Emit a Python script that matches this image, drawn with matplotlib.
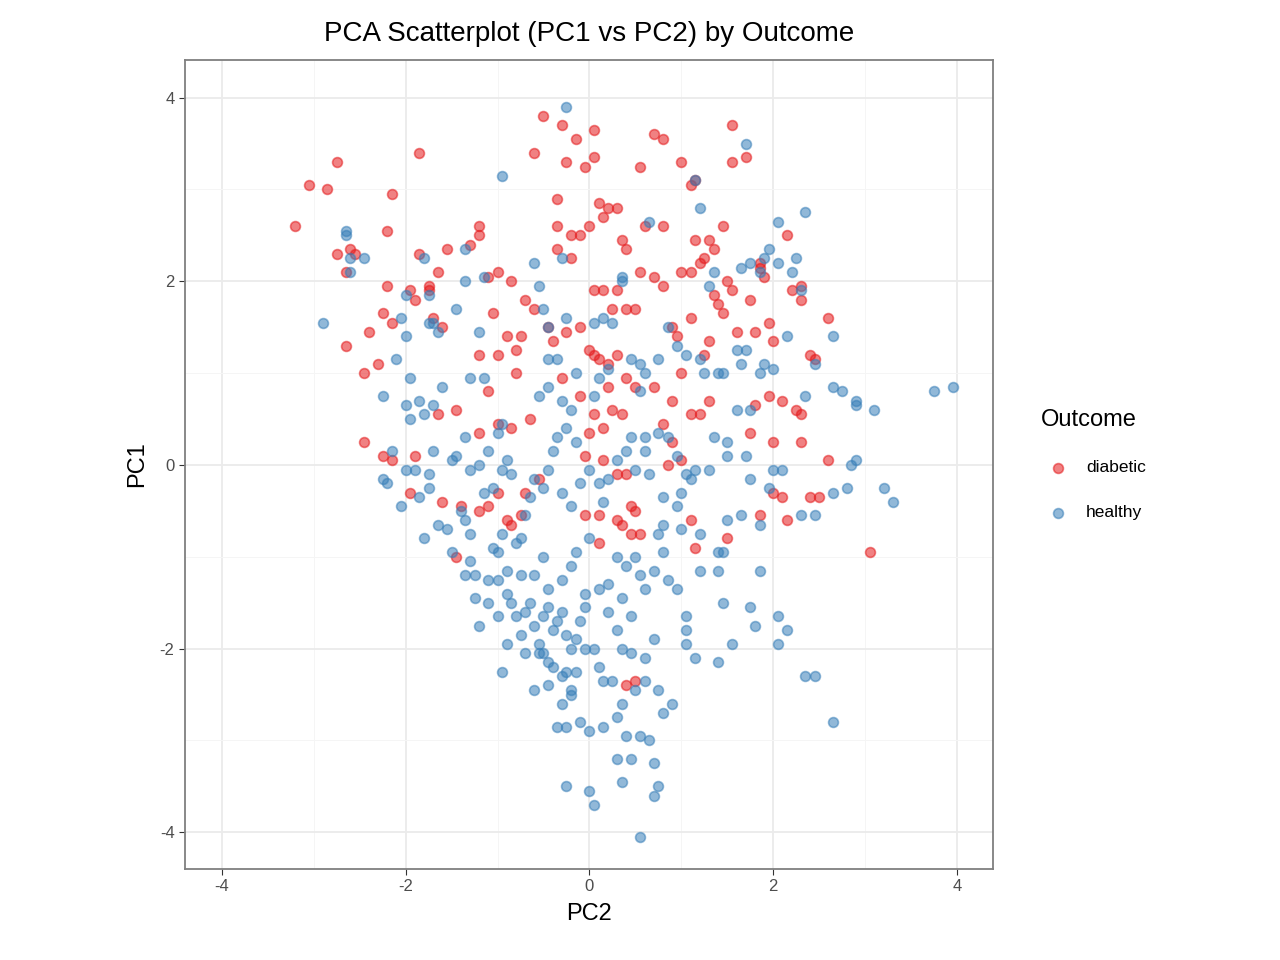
import numpy as np
import matplotlib.pyplot as plt

plt.rcParams['font.family'] = ['Liberation Sans', 'DejaVu Sans']
plt.rcParams['axes.unicode_minus'] = False

# diabetic points (PC2, PC1)
diabetic = [(-3.2,2.6),(-3.05,3.05),(-2.85,3.0),(-2.75,3.3),(-2.75,2.3),(-2.65,2.1),(-2.6,2.35),(-2.55,2.3),(-2.65,1.3),(-2.4,1.45),(-2.45,1.0),(-2.2,1.95),(-2.2,2.55),(-2.15,2.95),(-2.25,1.65),(-2.15,1.55),(-2.3,1.1),(-2.45,0.25),(-2.25,0.1),(-2.15,0.05),(-1.85,3.4),(-1.85,2.3),(-1.9,1.8),(-1.95,1.9),(-1.9,0.1),(-1.95,-0.3),(-1.75,1.9),(-1.75,1.95),(-1.7,1.6),(-1.65,2.1),(-1.6,1.5),(-1.65,0.55),(-1.55,2.35),(-1.6,-0.4),(-1.45,0.6),(-1.4,-0.45),(-1.45,-1.0),(-1.3,2.4),(-1.2,2.6),(-1.2,2.5),(-1.1,2.05),(-1.0,2.1),(-0.85,2.0),(-1.05,1.65),(-1.2,1.2),(-1.1,0.8),(-1.0,1.2),(-0.9,1.4),(-0.8,1.25),(-0.75,1.4),(-0.8,1.0),(-0.7,1.8),(-0.6,1.7),(-1.2,0.35),(-1.0,0.45),(-0.85,0.4),(-0.65,0.5),(-1.2,-0.5),(-1.1,-0.45),(-1.0,-0.3),(-0.9,-0.6),(-0.85,-0.65),(-0.75,-0.55),(-0.7,-0.3),(-0.55,-0.15),(-0.5,3.8),(-0.3,3.7),(-0.6,3.4),(-0.25,3.3),(-0.15,3.55),(0.05,3.65),(-0.05,3.25),(0.05,3.35),(-0.35,2.9),(-0.35,2.6),(-0.2,2.5),(-0.1,2.5),(-0.35,2.35),(-0.2,2.25),(0.1,2.85),(0.2,2.8),(0.3,2.8),(0.15,2.7),(0.0,2.6),(0.35,2.45),(0.4,2.35),(0.05,1.9),(0.15,1.9),(0.3,1.9),(0.4,1.7),(0.5,1.7),(0.25,1.7),(-0.45,1.5),(-0.25,1.45),(-0.1,1.5),(0.0,1.25),(0.05,1.2),(0.1,1.15),(0.2,1.1),(0.3,1.2),(0.4,0.95),(0.5,0.85),(0.7,0.85),(-0.4,1.35),(-0.3,0.95),(-0.1,0.75),(0.2,0.85),(0.05,0.55),(0.25,0.6),(0.35,0.55),(0.0,0.35),(0.15,0.4),(-0.05,0.1),(0.15,0.05),(0.3,-0.1),(0.4,-0.1),(-0.05,-0.55),(0.1,-0.55),(0.3,-0.6),(0.45,-0.45),(0.5,-0.5),(0.1,-0.85),(0.35,-0.65),(0.45,-0.75),(0.55,-0.75),(0.5,-2.35),(0.4,-2.4),(0.55,2.1),(0.7,2.05),(0.8,1.95),(0.6,2.6),(0.8,2.6),(0.7,3.6),(0.8,3.55),(0.55,3.25),(1.0,3.3),(1.1,3.05),(1.15,3.1),(1.0,2.1),(1.1,2.1),(1.15,2.45),(1.3,2.45),(1.25,2.25),(1.2,2.2),(1.35,2.35),(1.45,2.6),(1.5,2.0),(1.35,1.85),(1.4,1.75),(1.55,1.9),(1.55,3.3),(1.55,3.7),(1.7,3.35),(1.75,1.8),(1.6,1.45),(1.45,1.65),(1.85,2.2),(1.9,2.05),(1.85,2.15),(1.8,1.45),(1.95,1.55),(2.0,1.35),(2.15,2.5),(2.2,1.9),(2.3,1.8),(2.3,1.95),(2.6,1.6),(2.4,1.2),(2.45,1.15),(0.9,1.5),(0.95,1.4),(1.1,1.6),(1.3,1.35),(1.25,1.2),(1.0,1.0),(0.9,0.7),(1.1,0.55),(1.2,0.55),(0.8,0.45),(0.9,0.25),(1.0,0.05),(0.85,0.0),(1.3,0.7),(1.8,0.65),(1.95,0.75),(2.1,0.7),(2.25,0.6),(2.3,0.55),(1.75,0.35),(2.0,-0.3),(2.1,-0.35),(2.15,-0.6),(1.85,-0.55),(1.5,-0.8),(1.1,-0.6),(1.15,-0.9),(2.4,-0.35),(2.5,-0.35),(2.6,0.05),(3.05,-0.95),(2.0,0.25),(2.3,0.25)]

# healthy points (PC2, PC1)
healthy = [(-2.9,1.55),(-2.65,2.55),(-2.65,2.5),(-2.6,2.25),(-2.6,2.1),(-2.45,2.25),(-2.25,0.75),(-2.1,1.15),(-2.05,1.6),(-2.0,1.85),(-2.0,1.4),(-1.95,0.95),(-2.0,0.65),(-1.95,0.5),(-1.85,0.7),(-1.8,0.55),(-1.75,1.55),(-1.7,1.55),(-1.65,1.45),(-1.75,1.85),(-1.8,2.25),(-1.6,0.85),(-1.7,0.65),(-1.45,1.7),(-1.35,2.0),(-1.35,2.35),(-1.15,2.05),(-1.2,1.45),(-1.15,0.95),(-1.3,0.95),(-0.95,3.15),(-0.6,2.2),(-0.55,1.95),(-0.5,1.7),(-0.45,1.5),(-0.25,1.6),(-0.3,2.25),(-0.25,3.9),(-0.45,1.15),(-0.35,1.15),(-0.55,0.75),(-0.45,0.85),(-0.3,0.7),(-0.2,0.6),(-0.15,1.0),(0.05,0.75),(0.1,0.95),(0.2,1.05),(0.25,1.55),(0.05,1.55),(0.15,1.6),(0.35,2.05),(0.35,2.0),(0.45,1.15),(0.55,1.1),(0.55,0.8),(0.6,1.0),(0.75,1.15),(0.65,2.65),(0.85,1.5),(0.95,1.3),(1.05,1.2),(1.2,1.15),(1.25,1.0),(1.4,1.0),(1.45,1.0),(1.6,1.25),(1.7,1.25),(1.65,1.1),(1.75,0.6),(1.6,0.6),(1.85,1.0),(1.9,1.1),(2.0,1.05),(1.95,2.35),(2.05,2.65),(2.05,2.2),(2.2,2.1),(2.25,2.25),(2.35,2.75),(2.3,1.9),(2.15,1.4),(2.45,1.1),(2.65,1.4),(2.65,0.85),(2.75,0.8),(2.9,0.7),(2.9,0.65),(3.1,0.6),(3.75,0.8),(3.95,0.85),(2.35,0.75),(1.2,2.8),(1.15,3.1),(1.7,3.5),(1.35,2.1),(1.3,1.95),(1.75,2.2),(1.85,2.1),(1.9,2.25),(1.65,2.15),
           (-2.25,-0.15),(-2.2,-0.2),(-2.15,0.15),(-2.05,-0.45),(-2.0,-0.05),(-1.9,-0.05),(-1.85,-0.35),(-1.8,-0.8),(-1.75,-0.25),(-1.75,-0.1),(-1.7,0.15),(-1.65,-0.65),(-1.55,-0.7),(-1.5,-0.95),(-1.5,0.05),(-1.45,0.1),(-1.35,0.3),(-1.4,-0.5),(-1.35,-0.6),(-1.3,-0.75),(-1.3,-1.05),(-1.25,-1.2),(-1.35,-1.2),(-1.25,-1.45),(-1.2,-1.75),(-1.1,-1.25),(-1.05,-0.9),(-1.0,-0.95),(-0.95,-0.75),(-1.15,-0.3),(-1.05,-0.25),(-0.95,-0.05),(-0.9,0.05),(-0.85,-0.1),(-1.0,0.35),(-0.95,0.45),(-1.1,0.15),(-1.2,0.0),(-1.3,-0.05),(-0.8,-0.85),(-0.75,-0.8),(-0.7,-0.55),(-0.65,-0.35),(-0.6,-0.15),(-0.5,-0.25),(-0.45,-0.05),(-0.4,0.15),(-0.35,0.3),(-0.25,0.4),(-0.15,0.25),(-0.3,-0.3),(-0.2,-0.45),(-0.1,-0.2),(0.0,-0.05),(0.1,-0.2),(0.15,-0.4),(0.2,-0.15),(0.3,0.05),(0.4,0.15),(0.45,0.3),(0.6,0.3),(0.75,0.35),(0.85,0.3),(0.95,0.1),(1.05,-0.1),(1.1,-0.15),(1.15,-0.05),(1.3,-0.05),(1.35,0.3),(1.5,0.25),(1.5,0.1),(1.7,0.1),(1.75,-0.15),(1.95,-0.25),(2.0,-0.05),(2.1,-0.05),(2.3,-0.55),(2.45,-0.55),(2.65,-0.3),(2.8,-0.25),(2.85,0.0),(2.9,0.05),(3.2,-0.25),(3.3,-0.4),(1.0,-0.3),(0.95,-0.45),(0.8,-0.35),(0.65,-0.1),(0.6,0.15),(0.5,-0.05),
           (-0.9,-1.4),(-0.85,-1.5),(-0.8,-1.65),(-0.75,-1.85),(-0.7,-1.6),(-0.65,-1.5),(-0.6,-1.75),(-0.55,-1.95),(-0.5,-1.65),(-0.45,-1.55),(-0.4,-1.8),(-0.35,-1.7),(-0.3,-1.6),(-0.25,-1.85),(-0.2,-2.0),(-0.15,-1.9),(-0.1,-1.7),(-0.05,-1.55),(-0.5,-2.05),(-0.45,-2.15),(-0.55,-2.05),(-0.4,-2.2),(-0.3,-2.3),(-0.25,-2.25),(-0.2,-2.45),(-0.15,-2.25),(-0.05,-2.0),(0.05,-2.0),(0.1,-2.2),(0.15,-2.35),(0.2,-1.6),(0.3,-1.8),(0.35,-1.45),(0.45,-1.65),(0.55,-1.2),(0.6,-1.35),(0.7,-1.15),(0.8,-0.95),(0.85,-1.25),(0.7,-1.9),(0.6,-2.1),(0.45,-2.05),(0.35,-2.0),(0.25,-2.35),(0.3,-2.75),(0.35,-2.6),(0.5,-2.45),(0.6,-2.35),(0.75,-2.45),(0.8,-2.7),(0.9,-2.6),(0.65,-3.0),(0.55,-2.95),(0.4,-2.95),(0.45,-3.2),(0.3,-3.2),(0.35,-3.45),(0.7,-3.25),(0.75,-3.5),(0.7,-3.6),(0.55,-4.05),(0.0,-3.55),(0.05,-3.7),(-0.25,-3.5),(0.15,-2.85),(0.0,-2.9),(-0.1,-2.8),(-0.35,-2.85),(-0.25,-2.85),(-0.2,-2.5),(-0.45,-2.4),(-0.3,-2.6),(-0.6,-1.2),(-0.5,-1.0),(-0.45,-1.35),(-0.3,-1.25),(-0.2,-1.1),(-0.15,-0.95),(0.0,-0.8),(0.1,-1.35),(0.2,-1.3),(0.3,-1.0),(0.4,-1.1),(0.5,-1.0),(-0.05,-1.4),(-0.6,-2.45),(-0.9,-1.95),(-0.95,-2.25),(-0.7,-2.05),(-1.0,-1.65),(-1.1,-1.5),(-1.0,-1.25),(-0.9,-1.15),(-0.75,-1.2),(0.95,-1.35),(1.05,-1.65),(1.05,-1.8),(1.15,-2.1),(1.05,-1.95),(1.2,-1.15),(1.4,-1.15),(1.45,-0.95),(1.4,-0.95),(1.45,-1.5),(1.5,-0.6),(1.65,-0.55),(1.75,-1.55),(1.85,-0.65),(1.85,-1.15),(1.8,-1.75),(1.55,-1.95),(1.4,-2.15),(2.05,-1.65),(2.05,-1.95),(2.15,-1.8),(2.35,-2.3),(2.45,-2.3),(2.65,-2.8),(1.2,-0.75),(1.0,-0.7),(0.8,-0.65),(0.75,-0.75)]

ticks = [-4, -2, 0, 2, 4]
minor = [-3, -1, 1, 3]

fig = plt.figure(figsize=(12.8, 9.6), dpi=100)
ax = fig.add_axes([185/1280, 1-869/960, 808/1280, 809/960])

d = np.array(diabetic)
h = np.array(healthy)
ax.scatter(d[:, 0], d[:, 1], s=50, color='#E41A1C', alpha=0.55, edgecolors='#E41A1C', linewidths=1.2, label='diabetic', zorder=3)
ax.scatter(h[:, 0], h[:, 1], s=50, color='#377EB8', alpha=0.55, edgecolors='#377EB8', linewidths=1.2, label='healthy', zorder=3)

ax.set_xlim(-4.4, 4.39)
ax.set_ylim(-4.4, 4.41)
ax.set_xticks(ticks)
ax.set_yticks(ticks)
ax.set_xticks(minor, minor=True)
ax.set_yticks(minor, minor=True)
ax.grid(True, which='major', color='#EBEBEB', linewidth=1.3, zorder=0)
ax.grid(True, which='minor', color='#F5F5F5', linewidth=0.7, zorder=0)
ax.set_axisbelow(True)
ax.tick_params(which='minor', length=0)
ax.tick_params(which='major', length=4, color='#333333', labelsize=12, labelcolor='#4D4D4D')
for s in ax.spines.values():
    s.set_color('#7F7F7F')
    s.set_linewidth(1.3)

ax.set_xlabel('PC2', fontsize=17, labelpad=6)
ax.set_ylabel('PC1', fontsize=17, labelpad=8)
ax.set_title('PCA Scatterplot (PC1 vs PC2) by Outcome', fontsize=20, pad=14)

leg = ax.legend(title='Outcome', loc='center left', bbox_to_anchor=(1.04, 0.5), frameon=False,
                fontsize=12.5, title_fontsize=17, markerscale=1.0, handletextpad=0.6, labelspacing=1.7,
                alignment='left')

plt.savefig('out.png', dpi=100)
